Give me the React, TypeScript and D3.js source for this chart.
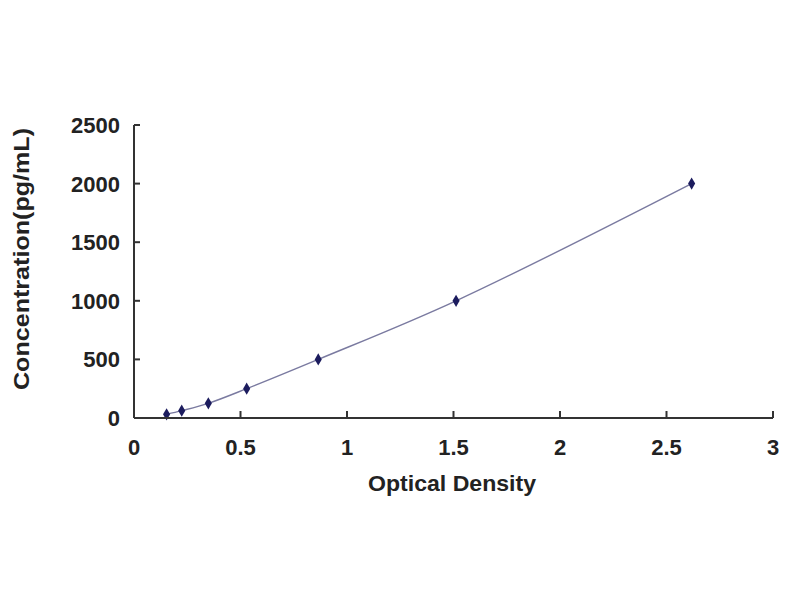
import React from "react";
import * as d3 from "d3";

const opticalDensity = [0.153, 0.224, 0.349, 0.529, 0.865, 1.512, 2.618];
const concentration = [31.25, 62.5, 125, 250, 500, 1000, 2000];
const xTicks = [0, 0.5, 1, 1.5, 2, 2.5, 3];
const yTicks = [0, 500, 1000, 1500, 2000, 2500];
const xTitle = "Optical Density";
const yTitle = "Concentration(pg/mL)";

const W = 800;
const H = 600;
const FONT = "'Liberation Sans', Arial, sans-serif";

export default function App() {
  const x = d3.scaleLinear().domain([0, 3]).range([134, 773]);
  const y = d3.scaleLinear().domain([0, 2500]).range([418, 125]);
  const pts = opticalDensity.map((d, i) => [d, concentration[i]] as [number, number]);
  const line = d3
    .line<[number, number]>()
    .x((d) => x(d[0]))
    .y((d) => y(d[1]))
    .curve(d3.curveCatmullRom.alpha(0.5));
  const diamond = d3.symbol().type(d3.symbolDiamond).size(44)();

  return (
    <svg
      width={W}
      height={H}
      style={{ position: "absolute", left: 0, top: 0, background: "#fff" }}
    >
      <rect x={0} y={0} width={W} height={H} fill="#fff" />
      <path d={line(pts) || ""} fill="none" stroke="#7a7aa0" strokeWidth={1.4} />
      {pts.map((p, i) => (
        <path
          key={i}
          d={diamond || ""}
          transform={`translate(${x(p[0])},${y(p[1])})`}
          fill="#1c1c5e"
        />
      ))}
      <line x1={x(0)} x2={x(0)} y1={y(0)} y2={y(2500)} stroke="#333" strokeWidth={2} />
      <line x1={x(0)} x2={x(3)} y1={y(0)} y2={y(0)} stroke="#333" strokeWidth={2} />
      {yTicks.map((t) => (
        <g key={"y" + t}>
          <line x1={x(0)} x2={x(0) + 6} y1={y(t)} y2={y(t)} stroke="#333" strokeWidth={2} />
          <text
            x={120}
            y={y(t)}
            dy="0.36em"
            textAnchor="end"
            fontFamily={FONT}
            fontWeight="bold"
            fontSize={22}
            fill="#222"
          >
            {t}
          </text>
        </g>
      ))}
      {xTicks.map((t) => (
        <g key={"x" + t}>
          <line x1={x(t)} x2={x(t)} y1={y(0)} y2={y(0) - 7} stroke="#333" strokeWidth={2} />
          <text
            x={x(t)}
            y={455}
            textAnchor="middle"
            fontFamily={FONT}
            fontWeight="bold"
            fontSize={22}
            fill="#222"
          >
            {t}
          </text>
        </g>
      ))}
      <text
        x={452}
        y={491}
        textAnchor="middle"
        fontFamily={FONT}
        fontWeight="bold"
        fontSize={22}
        fill="#222"
        textLength={168}
        lengthAdjust="spacingAndGlyphs"
      >
        {xTitle}
      </text>
      <text
        transform={`translate(29,259) rotate(-90)`}
        textAnchor="middle"
        fontFamily={FONT}
        fontWeight="bold"
        fontSize={22}
        fill="#222"
        textLength={262}
        lengthAdjust="spacingAndGlyphs"
      >
        {yTitle}
      </text>
    </svg>
  );
}
